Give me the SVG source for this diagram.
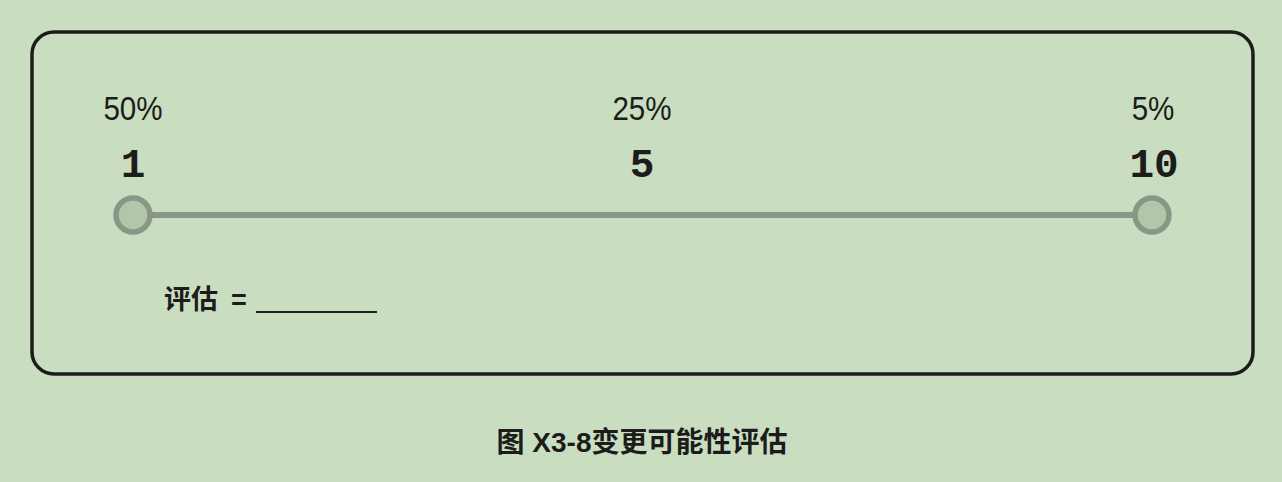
<svg xmlns="http://www.w3.org/2000/svg" width="1282" height="482" viewBox="0 0 1282 482">
<style>
.num{fill:#1c1c1a;text-anchor:middle}
.pct{font-family:"Liberation Sans",Arial,sans-serif;font-size:34px}
.big{font-family:"Liberation Mono","Courier New",monospace;font-weight:bold;font-size:41px}
.cjk{font-family:"Liberation Sans","Noto Sans CJK SC",sans-serif;font-weight:bold;fill:#1c1c1a}
.knob{fill:#b2c6a9;stroke:#889886;stroke-width:5.5}
</style>
<rect width="1282" height="482" fill="#c9dec0"/>
<g id="frame"><rect x="32" y="32" width="1221" height="342" rx="22" fill="none" stroke="#1c1c1a" stroke-width="3.5"/></g>
<g id="connectors"><line x1="133" y1="215" x2="1152" y2="215" stroke="#889886" stroke-width="6"/></g>
<g id="node-1">
<circle class="knob" cx="133" cy="215" r="17"/>
<text class="num pct" transform="translate(133,120) scale(0.87,1)">50%</text>
<text class="num big" x="133" y="177">1</text>
</g>
<g id="node-5">
<text class="num pct" transform="translate(642,120) scale(0.87,1)">25%</text>
<text class="num big" x="642" y="177">5</text>
</g>
<g id="node-10">
<circle class="knob" cx="1152" cy="215" r="17"/>
<text class="num pct" transform="translate(1153,120) scale(0.87,1)">5%</text>
<text class="num big" x="1154" y="177">10</text>
</g>
<g id="estimate">
<text class="cjk" y="309" font-size="27"><tspan x="164">评估</tspan><tspan x="231">=</tspan></text>
<line x1="256" y1="312" x2="377" y2="312" stroke="#1c1c1a" stroke-width="2"/>
</g>
<g id="caption"><text class="cjk" x="642" y="452" font-size="28" text-anchor="middle">图 X3-8变更可能性评估</text></g>
</svg>
